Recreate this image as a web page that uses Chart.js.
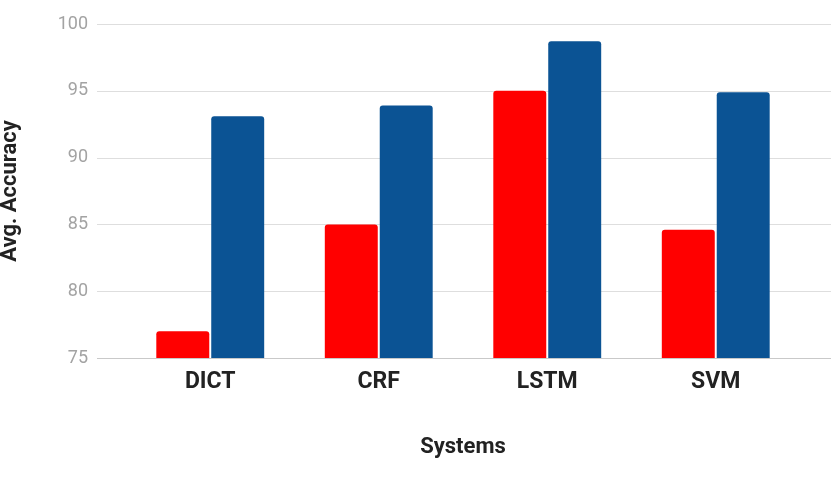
<!DOCTYPE html>
<html>
<head>
<meta charset="utf-8">
<script src="https://cdn.jsdelivr.net/npm/chart.js@4.4.1/dist/chart.umd.min.js"></script>
<style>
    html, body { margin: 0; padding: 0; background: #ffffff; }
    #wrap { width: 836px; height: 478px; }
</style>
</head>
<body>
<div id="wrap"><canvas id="myChart" width="836" height="478"></canvas></div>
<script>
const systems = ['DICT', 'CRF', 'LSTM', 'SVM'];
const redValues = [77, 85, 95, 84.6];
const blueValues = [93.1, 93.9, 98.7, 94.9];
const yTicks = [75, 80, 85, 90, 95, 100];

// Google-style gridlines run wider than the category band
const wideGrid = {
    id: 'wideGrid',
    beforeDatasetsDraw(chart) {
        const ctx = chart.ctx;
        const y = chart.scales.y;
        ctx.save();
        ctx.lineWidth = 1;
        yTicks.forEach(t => {
            const py = Math.round(y.getPixelForValue(t)) + 0.5;
            ctx.strokeStyle = t === yTicks[0] ? '#c9c9c9' : '#dedede';
            ctx.beginPath();
            ctx.moveTo(97, py);
            ctx.lineTo(831, py);
            ctx.stroke();
        });
        ctx.restore();
    }
};

let ctx = document.getElementById('myChart').getContext('2d');
let myChart = new Chart(ctx, {
    type: 'bar',
    data: {
        labels: systems,
        datasets: [{
            label: 'Series 1',
            data: redValues,
            backgroundColor: '#ff0000',
            borderRadius: { topLeft: 3, topRight: 3 },
            borderSkipped: 'bottom'
        }, {
            label: 'Series 2',
            data: blueValues,
            backgroundColor: '#0b5394',
            borderRadius: { topLeft: 3, topRight: 3 },
            borderSkipped: 'bottom'
        }]
    },
    options: {
        responsive: false,
        animation: false,
        categoryPercentage: 0.652,
        barPercentage: 0.964,
        layout: {
            padding: { top: 24, right: 36, bottom: 0, left: 0 }
        },
        plugins: {
            legend: { display: false },
            tooltip: { enabled: false }
        },
        scales: {
            x: {
                grid: { display: false, drawTicks: false },
                border: { display: false },
                ticks: {
                    padding: 10,
                    color: '#222222',
                    font: { family: 'Roboto', size: 23, weight: 'bold' }
                },
                title: {
                    display: true,
                    text: 'Systems',
                    color: '#222222',
                    padding: { top: 0, bottom: 17 },
                    font: { family: 'Roboto', size: 22, weight: 'bold' }
                },
                afterFit: s => { s.height = 120; }
            },
            y: {
                min: 75,
                max: 100,
                afterBuildTicks: s => { s.ticks = yTicks.map(v => ({ value: v })); },
                grid: {
                    color: 'rgba(0,0,0,0)',
                    drawOnChartArea: false,
                    drawTicks: true,
                    tickLength: 38
                },
                border: { display: false },
                ticks: {
                    padding: 0,
                    color: '#a3a3a3',
                    font: { family: 'Roboto', size: 18 }
                },
                title: {
                    display: true,
                    text: 'Avg. Accuracy',
                    color: '#222222',
                    padding: { top: -3, bottom: 0 },
                    font: { family: 'Roboto', size: 22, weight: 'bold' }
                },
                afterFit: s => { s.width = 126; }
            }
        }
    },
    plugins: [wideGrid]
});
</script>
</body>
</html>
